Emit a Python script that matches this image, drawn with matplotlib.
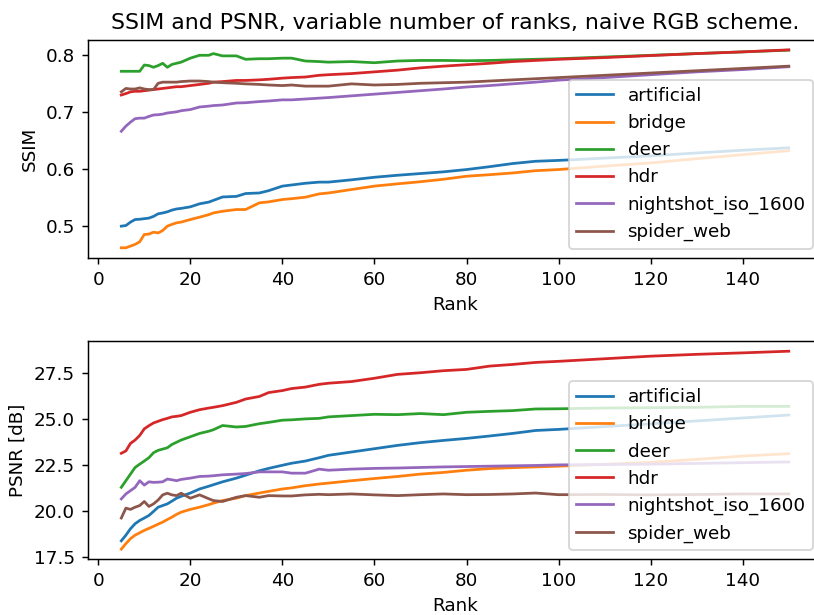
import matplotlib
matplotlib.use("Agg")
import matplotlib.pyplot as plt
import numpy as np

ranks = [5, 6, 7, 8, 9, 10, 11, 12, 13, 14, 15, 16, 17, 18, 20, 22, 24, 25, 27, 30, 32,
         35, 37, 40, 42, 45, 48, 50, 55, 60, 65, 70, 75, 80, 85, 90, 95, 100, 110, 120,
         130, 140, 150]

names = ["artificial", "bridge", "deer", "hdr", "nightshot_iso_1600", "spider_web"]

# SSIM
ssim_artificial = [0.4999, 0.501, 0.507, 0.5115, 0.512, 0.513, 0.514, 0.517, 0.5215, 0.523, 0.525,
                   0.528, 0.530, 0.531, 0.5337, 0.539, 0.542, 0.545, 0.551, 0.552, 0.557, 0.558,
                   0.562, 0.570, 0.572, 0.575, 0.577, 0.577, 0.581, 0.5855, 0.589, 0.592, 0.595,
                   0.599, 0.604, 0.6095, 0.6135, 0.615, 0.619, 0.623, 0.628, 0.6328, 0.637]
ssim_bridge = [0.462, 0.462, 0.465, 0.468, 0.4725, 0.4853, 0.486, 0.4894, 0.488, 0.4923, 0.4999,
               0.503, 0.5057, 0.507, 0.5115, 0.5156, 0.520, 0.523, 0.526, 0.529, 0.529, 0.5407,
               0.5424, 0.5465, 0.548, 0.5506, 0.5564, 0.558, 0.564, 0.570, 0.574, 0.5777, 0.582,
               0.5873, 0.590, 0.593, 0.597, 0.599, 0.605, 0.6106, 0.618, 0.625, 0.632]
ssim_deer = [0.771, 0.771, 0.771, 0.771, 0.771, 0.782, 0.781, 0.778, 0.781, 0.785, 0.778,
             0.783, 0.785, 0.787, 0.794, 0.799, 0.799, 0.802, 0.798, 0.798, 0.792, 0.793,
             0.793, 0.794, 0.794, 0.789, 0.788, 0.787, 0.788, 0.786, 0.789, 0.790, 0.790,
             0.7895, 0.790, 0.791, 0.792, 0.793, 0.796, 0.799, 0.802, 0.805, 0.808]
ssim_hdr = [0.7295, 0.732, 0.735, 0.736, 0.736, 0.737, 0.738, 0.739, 0.740, 0.741, 0.742,
            0.743, 0.744, 0.744, 0.746, 0.748, 0.750, 0.752, 0.753, 0.755, 0.755, 0.756,
            0.757, 0.759, 0.760, 0.761, 0.764, 0.765, 0.767, 0.770, 0.773, 0.777, 0.780,
            0.7825, 0.785, 0.788, 0.790, 0.792, 0.795, 0.7985, 0.802, 0.805, 0.8085]
ssim_nightshot = [0.666, 0.675, 0.682, 0.688, 0.689, 0.689, 0.692, 0.6945, 0.695, 0.696, 0.698,
                  0.699, 0.700, 0.702, 0.704, 0.7085, 0.710, 0.711, 0.712, 0.7155, 0.716, 0.718,
                  0.719, 0.721, 0.721, 0.7225, 0.724, 0.725, 0.728, 0.731, 0.734, 0.737, 0.740,
                  0.7435, 0.746, 0.749, 0.752, 0.7555, 0.760, 0.765, 0.770, 0.774, 0.779]
ssim_spider = [0.735, 0.741, 0.740, 0.740, 0.742, 0.740, 0.739, 0.739, 0.750, 0.752, 0.752,
               0.752, 0.752, 0.753, 0.754, 0.754, 0.753, 0.752, 0.751, 0.750, 0.749, 0.748,
               0.747, 0.746, 0.747, 0.745, 0.745, 0.745, 0.749, 0.747, 0.748, 0.750, 0.751,
               0.752, 0.754, 0.756, 0.758, 0.760, 0.764, 0.768, 0.772, 0.776, 0.780]

# PSNR
psnr_artificial = [18.36, 18.67, 19.02, 19.29, 19.47, 19.60, 19.74, 19.96, 20.19, 20.28, 20.37,
                   20.52, 20.68, 20.78, 20.96, 21.18, 21.33, 21.41, 21.57, 21.77, 21.93, 22.17,
                   22.30, 22.47, 22.58, 22.70, 22.88, 23.01, 23.19, 23.37, 23.55, 23.70, 23.82,
                   23.93, 24.06, 24.20, 24.36, 24.42, 24.57, 24.72, 24.88, 25.04, 25.20]
psnr_bridge = [17.91, 18.21, 18.48, 18.67, 18.80, 18.93, 19.04, 19.15, 19.27, 19.38, 19.52,
               19.65, 19.80, 19.92, 20.07, 20.19, 20.33, 20.41, 20.55, 20.68, 20.82, 20.96,
               21.05, 21.18, 21.24, 21.36, 21.45, 21.50, 21.63, 21.75, 21.86, 21.99, 22.08,
               22.20, 22.29, 22.34, 22.38, 22.42, 22.52, 22.63, 22.79, 22.97, 23.10]
psnr_deer = [21.27, 21.63, 21.99, 22.35, 22.53, 22.70, 22.88, 23.15, 23.28, 23.35, 23.42,
             23.60, 23.72, 23.84, 24.02, 24.20, 24.32, 24.40, 24.63, 24.55, 24.58, 24.73,
             24.80, 24.92, 24.94, 24.99, 25.02, 25.10, 25.17, 25.24, 25.22, 25.28, 25.22,
             25.35, 25.40, 25.44, 25.53, 25.54, 25.58, 25.60, 25.62, 25.67, 25.67]
psnr_hdr = [23.12, 23.25, 23.66, 23.84, 24.09, 24.45, 24.62, 24.77, 24.86, 24.95, 25.02,
            25.10, 25.13, 25.17, 25.35, 25.49, 25.58, 25.62, 25.71, 25.89, 26.07, 26.21,
            26.42, 26.53, 26.64, 26.72, 26.87, 26.93, 27.02, 27.20, 27.41, 27.50, 27.61,
            27.68, 27.86, 27.95, 28.06, 28.12, 28.26, 28.40, 28.50, 28.58, 28.67]
psnr_nightshot = [20.64, 20.91, 21.09, 21.27, 21.63, 21.39, 21.57, 21.54, 21.55, 21.57, 21.72,
                  21.68, 21.63, 21.70, 21.77, 21.86, 21.88, 21.90, 21.95, 21.99, 22.02, 22.11,
                  22.11, 22.11, 22.04, 22.04, 22.26, 22.20, 22.26, 22.30, 22.32, 22.35, 22.38,
                  22.40, 22.42, 22.44, 22.46, 22.49, 22.51, 22.53, 22.57, 22.61, 22.65]
psnr_spider = [19.60, 20.14, 20.07, 20.19, 20.28, 20.50, 20.23, 20.37, 20.58, 20.86, 20.95,
               20.86, 20.82, 20.95, 20.68, 20.86, 20.65, 20.55, 20.50, 20.73, 20.82, 20.73,
               20.82, 20.80, 20.80, 20.86, 20.89, 20.87, 20.91, 20.86, 20.82, 20.87, 20.91,
               20.87, 20.88, 20.91, 20.96, 20.87, 20.88, 20.86, 20.88, 20.91, 20.91]

ssim = [ssim_artificial, ssim_bridge, ssim_deer, ssim_hdr, ssim_nightshot, ssim_spider]
psnr = [psnr_artificial, psnr_bridge, psnr_deer, psnr_hdr, psnr_nightshot, psnr_spider]

dpi = 132
fig, (ax1, ax2) = plt.subplots(2, 1, figsize=(814 / dpi, 615 / dpi), dpi=dpi)
plt.subplots_adjust(left=0.108, right=1.01, top=0.935, bottom=0.091, hspace=0.384)

for name, vals in zip(names, ssim):
    ax1.plot(ranks, vals, label=name)
ax1.set_title("SSIM and PSNR, variable number of ranks, naive RGB scheme.")
ax1.set_xlabel("Rank")
ax1.set_ylabel("SSIM")
ax1.legend(loc="lower right")

for name, vals in zip(names, psnr):
    ax2.plot(ranks, vals, label=name)
ax2.set_xlabel("Rank")
ax2.set_ylabel("PSNR [dB]")
ax2.legend(loc="lower right")

plt.savefig("out.png", dpi=dpi)
